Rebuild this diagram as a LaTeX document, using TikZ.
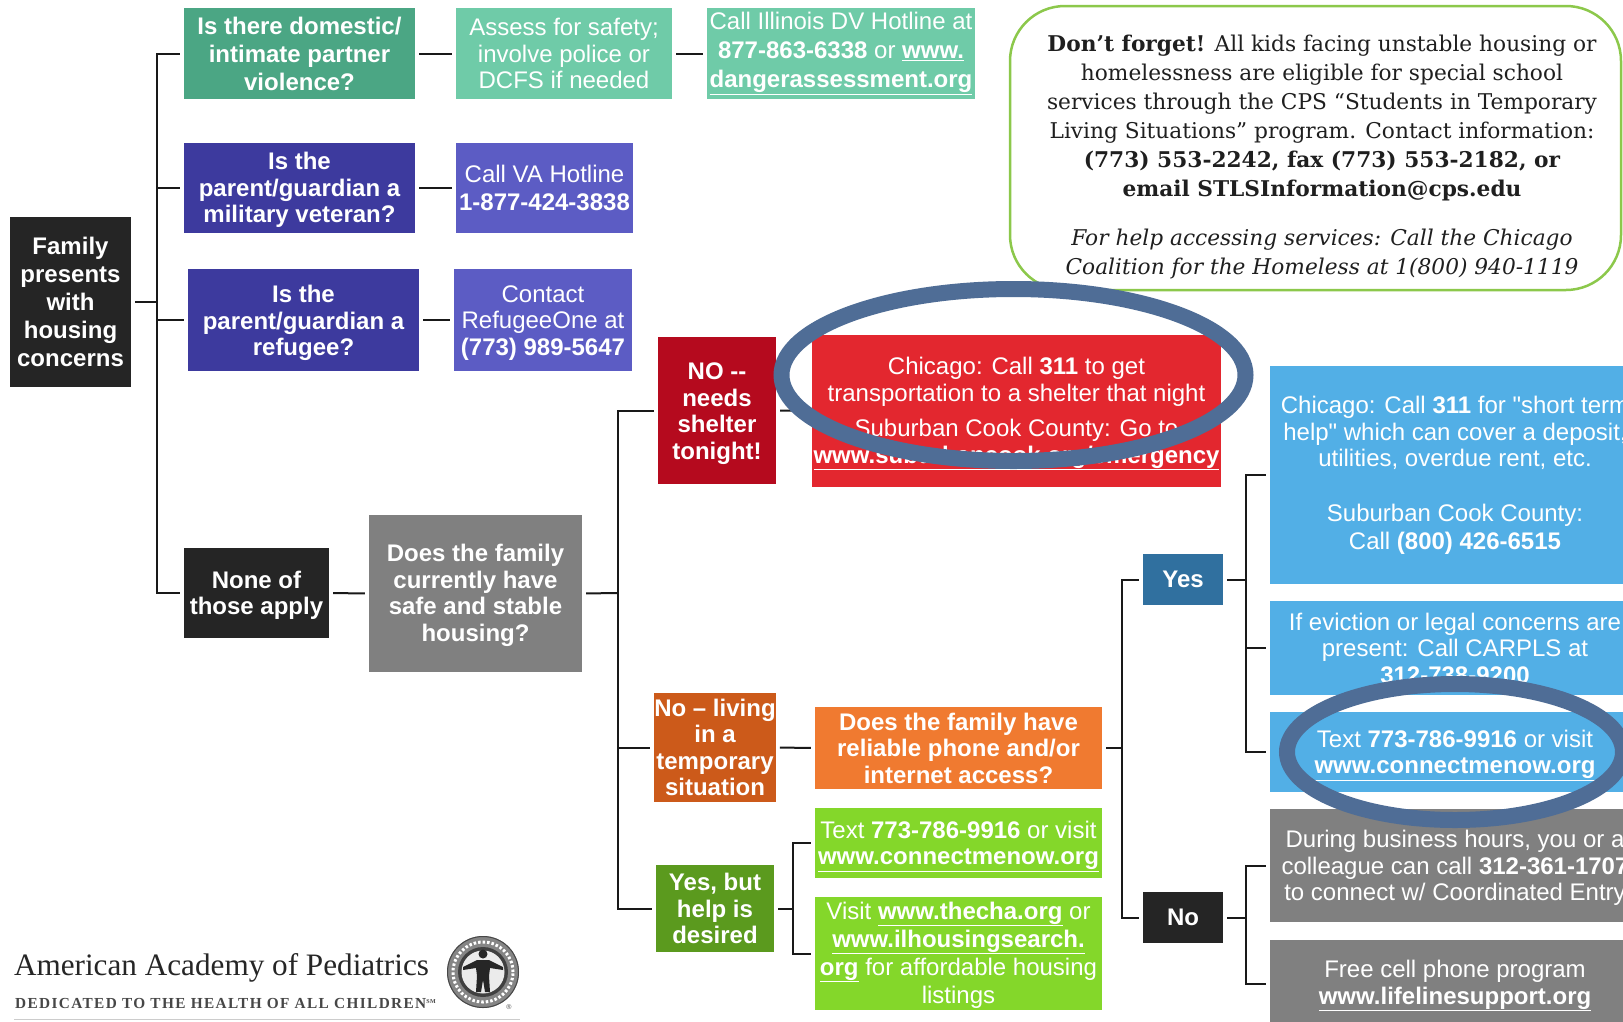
\documentclass[tikz,border=0pt]{standalone}
\usepackage{fontspec}
\setmainfont{Liberation Sans}
\newfontfamily\slabf{DejaVu Serif}
\newfontfamily\logof{Liberation Serif}
\newfontfamily\tagf[LetterSpace=9]{Liberation Serif}
\newfontfamily\plainq[Ligatures=ResetAll]{Liberation Sans}
\usetikzlibrary{calc}
\definecolor{cDVa}{HTML}{4BA684}
\definecolor{cDVb}{HTML}{6FCBA8}
\definecolor{cVEa}{HTML}{3D3A9E}
\definecolor{cVEb}{HTML}{5C5CC4}
\definecolor{cBlk}{HTML}{252525}
\definecolor{cGry}{HTML}{808080}
\definecolor{cNee}{HTML}{B50A1E}
\definecolor{cRed}{HTML}{E3272F}
\definecolor{cTem}{HTML}{CC5A1A}
\definecolor{cPho}{HTML}{F07A30}
\definecolor{cYeb}{HTML}{5B9A1E}
\definecolor{cGrn}{HTML}{84D72A}
\definecolor{cYes}{HTML}{30709F}
\definecolor{cBlu}{HTML}{52AFE6}
\definecolor{cRng}{HTML}{4F6D96}
\definecolor{cFrm}{HTML}{8CC84B}
\newcommand\boxfont{\fontsize{24}{26.5}\selectfont}
\newcommand\widefont{\fontsize{24}{28}\selectfont}
\newcommand\lnk[1]{\underline{\textbf{#1}}}
\newcommand\qt{{\plainq\symbol{34}}}
% lowers the text of a box by #1 pt, leaving the box where it is
\newsavebox\nudgebox
\newcommand\dn[2]{\sbox\nudgebox{\begin{tabular}{@{}c@{}}#2\end{tabular}}\raisebox{-#1pt}[\ht\nudgebox][\dp\nudgebox]{\usebox\nudgebox}}
\tikzset{
  box/.style={text=white,align=center,inner sep=0pt,font=\boxfont},
  bq/.style={box,font=\boxfont\bfseries},
  conn/.style={line width=2pt,draw=black!90},
  ring/.style={line width=16pt,draw=cRng},
}
\begin{document}
\begin{tikzpicture}[x=1pt,y=-1pt]
\useasboundingbox (0,0) rectangle (1623,1021);
\clip (0,0) rectangle (1623,1021);
\fill[white] (0,0) rectangle (1623,1021);
% rounded note
\node[draw=cFrm,line width=2.5pt,rounded corners=55pt,minimum width=611pt,minimum height=284pt,inner sep=0pt] (note) at (1315.5,148) {};
\node[align=center,inner sep=0pt,font=\slabf\fontsize{21.7}{29}\selectfont,text=black!88] (notetext) at (1322,157) {\textbf{Don’t forget!} All kids facing unstable housing or\\homelessness are eligible for special school\\services through the CPS “Students in Temporary\\Living Situations” program. Contact information:\\\textbf{(773) 553-2242, fax (773) 553-2182, or}\\\textbf{email STLSInformation@cps.edu}\\[20pt]\textit{For help accessing services: Call the Chicago}\\\textit{Coalition for the Homeless at 1(800) 940-1119}};
% boxes
\node[bq,font=\widefont\bfseries,fill=cBlk,minimum width=121pt,minimum height=170pt] (fam) at (70.5,302) {Family\\presents\\with\\housing\\concerns};
\node[bq,font=\widefont\bfseries,fill=cDVa,minimum width=231pt,minimum height=91pt] (dva) at (299.5,53.5) {Is there domestic/\\intimate partner\\violence?};
\node[box,fill=cDVb,minimum width=216pt,minimum height=91pt] (dvb) at (564,53.5) {Assess for safety;\\involve police or\\DCFS if needed};
\node[box,font=\fontsize{24}{29}\selectfont,fill=cDVb,minimum width=268pt,minimum height=91pt] (dvc) at (841,53.5) {Call Illinois DV Hotline at\\\textbf{877-863-6338} or \lnk{www.}\\\lnk{dangerassessment.org}};
\node[bq,fill=cVEa,minimum width=231pt,minimum height=90pt] (vea) at (299.5,188) {\dn{3}{Is the\\parent/guardian a\\military veteran?}};
\node[box,font=\widefont,fill=cVEb,minimum width=177pt,minimum height=90pt] (veb) at (544.5,188) {Call VA Hotline\\\textbf{1-877-424-3838}};
\node[bq,fill=cVEa,minimum width=231pt,minimum height=102pt] (rea) at (303.5,320) {\dn{4}{Is the\\parent/guardian a\\refugee?}};
\node[box,fill=cVEb,minimum width=178pt,minimum height=102pt] (reb) at (543,320) {\dn{3.5}{Contact\\RefugeeOne at\\\textbf{(773) 989-5647}}};
\node[bq,fill=cBlk,minimum width=145pt,minimum height=90pt] (non) at (256.5,593) {\dn{3}{None of\\those apply}};
\node[bq,fill=cGry,minimum width=213pt,minimum height=157pt] (gry) at (475.5,593.5) {\dn{2.5}{Does the family\\currently have\\safe and stable\\housing?}};
\node[bq,fill=cNee,minimum width=118pt,minimum height=147pt] (nee) at (717,410.5) {\dn{3.5}{NO -{}-\\needs\\shelter\\tonight!}};
\node[box,fill=cRed,minimum width=409pt,minimum height=152pt] (red) at (1016.5,411) {\dn{2.5}{Chicago: Call \textbf{311} to get\\transportation to a shelter that night\\[9pt]Suburban Cook County: Go to\\\lnk{www.suburbancook.org/emergency}}};
\node[bq,fill=cTem,minimum width=118pt,minimum height=109pt] (tem) at (715,747.5) {No – living\\in a\\temporary\\situation};
\node[bq,fill=cYeb,minimum width=118pt,minimum height=87pt] (yeb) at (715,908.5) {Yes, but\\help is\\desired};
\node[bq,fill=cPho,minimum width=287pt,minimum height=82pt] (pho) at (958.5,748) {Does the family have\\reliable phone and/or\\internet access?};
\node[box,fill=cGrn,minimum width=287pt,minimum height=70pt] (gra) at (958.5,843) {\dn{3}{Text \textbf{773-786-9916} or visit\\\lnk{www.connectmenow.org}}};
\node[box,font=\widefont,fill=cGrn,minimum width=287pt,minimum height=113pt] (grb) at (958.5,953.5) {\dn{2}{Visit \lnk{www.thecha.org} or\\\lnk{www.ilhousingsearch.}\\\lnk{org} for affordable housing\\listings}};
\node[bq,fill=cYes,minimum width=80pt,minimum height=51pt] (yes) at (1183,579.5) {Yes};
\node[bq,fill=cBlk,minimum width=80pt,minimum height=51pt] (no) at (1183,917.5) {No};
\node[box,fill=cBlu,minimum width=370pt,minimum height=218pt] (bla) at (1455,475) {\dn{1.5}{Chicago: Call \textbf{311} for \qt short term\\help\qt{} which can cover a deposit,\\utilities, overdue rent, etc.\\[2pt]~\\Suburban Cook County:\\[1.5pt]Call \textbf{(800) 426-6515}}};
\node[box,fill=cBlu,minimum width=370pt,minimum height=94pt] (blb) at (1455,648) {If eviction or legal concerns are\\present: Call CARPLS at\\\textbf{312-738-9200}};
\node[box,fill=cBlu,minimum width=370pt,minimum height=80pt] (blc) at (1455,752) {\dn{3}{Text \textbf{773-786-9916} or visit\\\lnk{www.connectmenow.org}}};
\node[box,fill=cGry,minimum width=370pt,minimum height=113pt] (gya) at (1455,865.5) {\dn{3.5}{During business hours, you or a\\colleague can call \textbf{312-361-1707}\\to connect w/ Coordinated Entry}};
\node[box,fill=cGry,minimum width=370pt,minimum height=87pt] (gyb) at (1455,983.5) {\dn{2}{Free cell phone program\\\lnk{www.lifelinesupport.org}}};
% connectors
\coordinate (ta) at (157,302);
\coordinate (tb) at (618,593);
\coordinate (tc) at (793,908.5);
\coordinate (td) at (1122,748);
\coordinate (te) at (1246,579.5);
\coordinate (tf) at (1246,917.5);
\draw[conn,shorten <=4pt] (fam.east) -- (ta);
\draw[conn,shorten <=4pt,shorten >=4pt] (dva.west) -| (ta) |- (non.west);
\draw[conn,shorten >=4pt] (ta |- vea.west) -- (vea.west);
\draw[conn,shorten >=4pt] (ta |- rea.west) -- (rea.west);
\draw[conn,shorten <=4pt,shorten >=4pt] (dva.east) -- (dvb.west);
\draw[conn,shorten <=4pt,shorten >=4pt] (dvb.east) -- (dvc.west);
\draw[conn,shorten <=4pt,shorten >=4pt] (vea.east) -- (veb.west);
\draw[conn,shorten <=4pt,shorten >=4pt] (rea.east) -- (reb.west);
\draw[conn,shorten <=4pt,shorten >=4pt] (non.east) -- (gry.west);
\draw[conn,shorten <=4pt] (gry.east) -- (tb);
\draw[conn,shorten <=4pt,shorten >=4pt] (nee.west) -| (tb) |- (yeb.west);
\draw[conn,shorten >=4pt] (tb |- tem.west) -- (tem.west);
\draw[conn,shorten <=4pt,shorten >=4pt] (nee.east) -- (red.west);
\draw[conn,shorten <=4pt,shorten >=4pt] (tem.east) -- (pho.west);
\draw[conn,shorten <=4pt] (yeb.east) -- (tc);
\draw[conn,shorten <=4pt,shorten >=4pt] (gra.west) -| (tc) |- (grb.west);
\draw[conn,shorten <=4pt] (pho.east) -- (td);
\draw[conn,shorten <=4pt,shorten >=4pt] (yes.west) -| (td) |- (no.west);
\draw[conn,shorten <=4pt] (yes.east) -- (te);
\draw[conn,shorten <=4pt,shorten >=4pt] (bla.west) -| (te) |- (blc.west);
\draw[conn,shorten >=4pt] (te |- blb.west) -- (blb.west);
\draw[conn,shorten <=4pt] (no.east) -- (tf);
\draw[conn,shorten <=4pt,shorten >=4pt] (gya.west) -| (tf) |- (gyb.west);
% highlight rings
\draw[ring] (1013.5,375) ellipse [x radius=232pt,y radius=86pt];
\draw[ring] (1455,752) ellipse [x radius=168pt,y radius=68pt];
% logo
\node[inner sep=0pt,font=\logof\fontsize{31.2}{34}\selectfont,text=black!85] (aap) at (221.5,968) {American Academy of Pediatrics};
\node[inner sep=0pt,font=\tagf\bfseries\fontsize{15.3}{16}\selectfont,text=black!72] (tag) at (225.5,1003) {DEDICATED TO THE HEALTH OF ALL CHILDREN\raisebox{5pt}{\fontsize{6}{6}\selectfont SM}};
% seal
\fill[black!48] (483,972) circle [radius=36pt];
\draw[black!72,line width=1pt] (483,972) circle [radius=35.5pt];
\draw[white,line width=3pt,dash pattern=on 2.5pt off 2pt] (483,972) circle [radius=30pt];
\fill[black!75] (483,972) circle [radius=25pt];
\fill[black!8] (483,972) circle [radius=21.5pt];
\fill[black!85] (483,954) circle [radius=4.5pt];
\fill[black!85] (463,967) -- (477,960) -- (489,960) -- (503,967) -- (503,970) -- (490,968) -- (489,976) -- (490,992) -- (485,992) -- (483,980) -- (481,992) -- (476,992) -- (477,976) -- (476,968) -- (463,970) -- cycle;
\node[inner sep=0pt,font=\fontsize{7}{7}\selectfont,text=black!70] (reg) at (509,1007) {®};
\draw[black!20,line width=1pt] (14,1019.5) -- (520,1019.5);
\end{tikzpicture}
\end{document}
